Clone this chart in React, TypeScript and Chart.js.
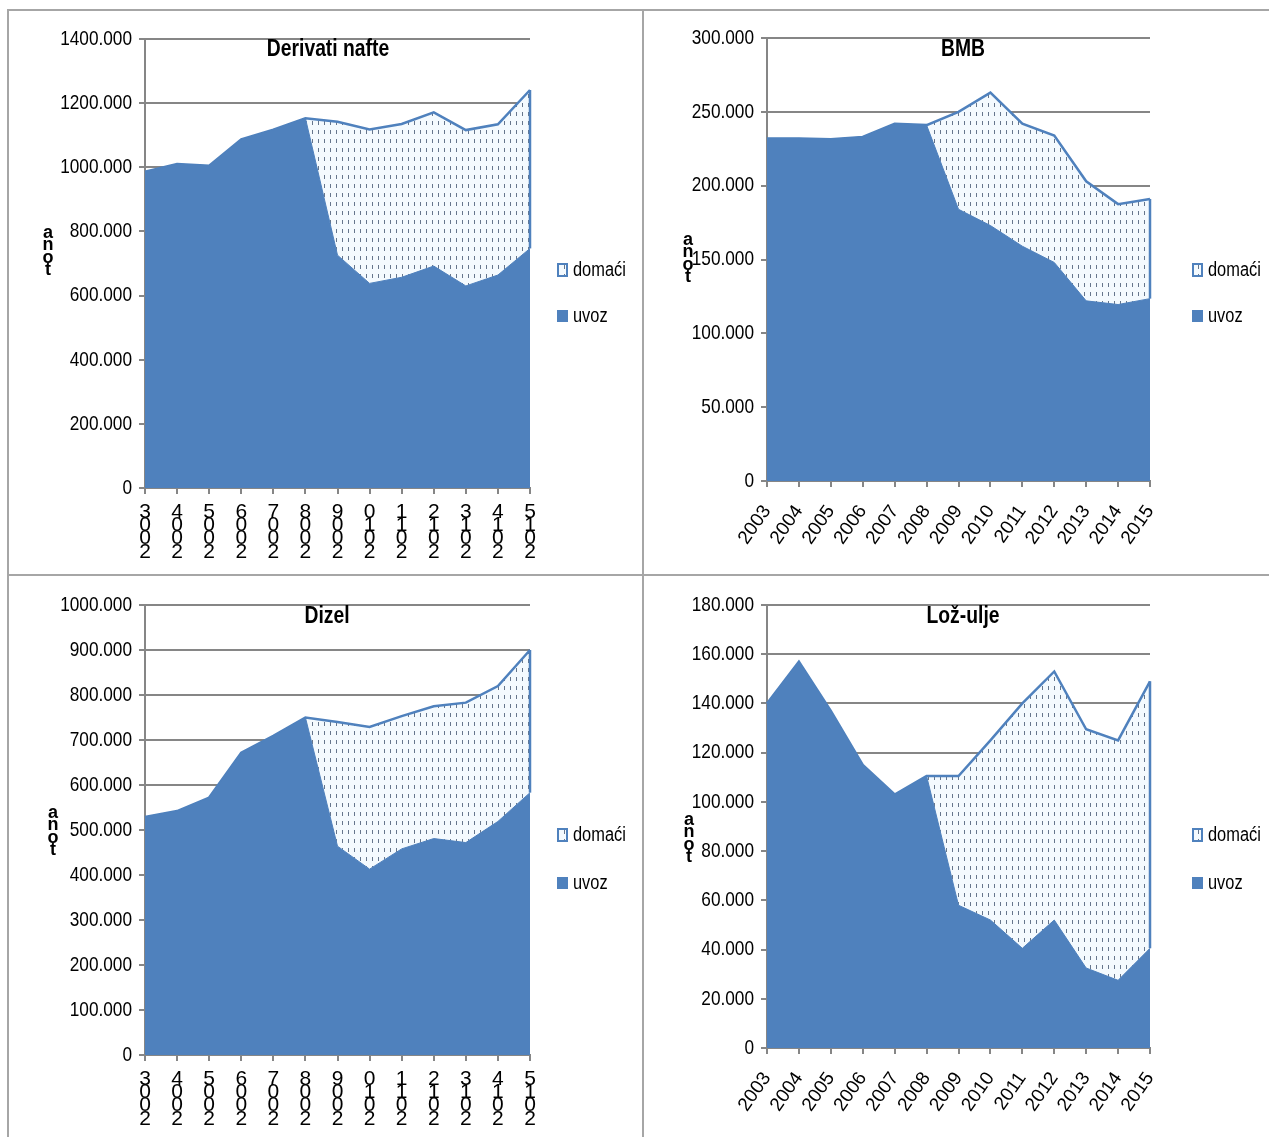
import React, { useEffect, useRef } from 'react';
import { Chart, registerables } from 'chart.js';

Chart.register(...registerables);

// ---------- data ----------
const years = ['2003', '2004', '2005', '2006', '2007', '2008', '2009', '2010', '2011', '2012', '2013', '2014', '2015'];
const stackedYearLabels = years.map((y) => y.split('').reverse());

const seriesUvoz = 'uvoz';
const seriesDomaci = 'domaći';
const axisTitle = 'tona';

const derivatiTitle = 'Derivati nafte';
const derivatiUvoz = [986000, 1010000, 1005000, 1087000, 1117000, 1153000, 726000, 638000, 657000, 692000, 630000, 664000, 747000];
const derivatiDomaci = [0, 0, 0, 0, 0, 0, 416000, 480000, 478000, 479000, 486000, 470000, 494000];

const bmbTitle = 'BMB';
const bmbUvoz = [232000, 232000, 231500, 233000, 242000, 241000, 184000, 173000, 159000, 148000, 122000, 119500, 123500];
const bmbDomaci = [0, 0, 0, 0, 0, 0, 66000, 90000, 83000, 86000, 81000, 68000, 67500];

const dizelTitle = 'Dizel';
const dizelUvoz = [529000, 542000, 572000, 672000, 709000, 750000, 464000, 413000, 458000, 481000, 472000, 519000, 583000];
const dizelDomaci = [0, 0, 0, 0, 0, 0, 276000, 316000, 295000, 294000, 311000, 301000, 317000];

const lozTitle = 'Lož-ulje';
const lozUvoz = [140000, 157000, 137000, 115000, 103000, 110500, 58000, 52000, 40500, 52000, 32500, 27500, 40500];
const lozDomaci = [0, 0, 0, 0, 0, 0, 52500, 73000, 99500, 101000, 97000, 97500, 108500];

// ---------- style ----------
const BLUE = '#4F81BD';
const GRID = '#868686';
const FRAME = '#A6A6A6';
const BASE = "'Liberation Sans', Arial, sans-serif";
const NARROW_X = 0.82;

function makePattern(): CanvasPattern | string {
  const c = document.createElement('canvas');
  c.width = 6;
  c.height = 9;
  const g = c.getContext('2d');
  if (!g) return '#F4FAFE';
  g.fillStyle = '#F4FAFE';
  g.fillRect(0, 0, 6, 9);
  g.fillStyle = '#66768C';
  g.fillRect(2, 2, 1, 4);
  return g.createPattern(c, 'repeat') || '#F4FAFE';
}

function fmt(v: number | string) {
  const n = Number(v);
  if (n === 0) return '0';
  const th = Math.floor(n / 1000);
  const r = Math.round(n % 1000);
  return `${th}.${String(r).padStart(3, '0')}`;
}

function drawNarrow(ctx: CanvasRenderingContext2D, text: string, x: number, y: number, align: CanvasTextAlign, font: string, sx = NARROW_X) {
  ctx.save();
  ctx.translate(x, y);
  ctx.scale(sx, 1);
  ctx.font = font;
  ctx.textAlign = align;
  ctx.textBaseline = 'middle';
  ctx.fillText(text, 0, 0);
  ctx.restore();
}

interface PanelProps {
  title: string;
  uvoz: number[];
  domaci: number[];
  max: number;
  step: number;
  stacked: boolean;
  left: number;
  top: number;
  width: number;
  height: number;
  plot: { l: number; t: number; r: number; b: number };
  titleX: number;
  titleY: number;
  axisX: number;
  axisY: number;
  legendX: number;
  legendY1: number;
  legendY2: number;
}

function Panel(p: PanelProps) {
  const ref = useRef<HTMLCanvasElement>(null);
  useEffect(() => {
    const canvas = ref.current;
    if (!canvas) return;
    const pattern = makePattern();
    const overlay = {
      id: 'overlay',
      afterDatasetsDraw(chart: any) {
        const ctx = chart.ctx;
        const xs = chart.scales.x;
        const ys = chart.scales.y;
        const last = p.uvoz.length - 1;
        const x = xs.getPixelForValue(last);
        ctx.save();
        ctx.strokeStyle = BLUE;
        ctx.lineWidth = 2.5;
        ctx.beginPath();
        ctx.moveTo(x, ys.getPixelForValue(p.uvoz[last] + p.domaci[last]));
        ctx.lineTo(x, ys.getPixelForValue(p.uvoz[last]));
        ctx.stroke();
        ctx.restore();
      },
      afterDraw(chart: any) {
        const ctx = chart.ctx as CanvasRenderingContext2D;
        const ys = chart.scales.y;
        ctx.save();
        ctx.fillStyle = '#000';
        // y tick labels (from the scale's own ticks)
        ys.ticks.forEach((t: any) => {
          drawNarrow(ctx, fmt(t.value), chart.chartArea.left - 13, ys.getPixelForValue(t.value), 'right', `21px ${BASE}`);
        });
        // title
        drawNarrow(ctx, p.title, p.titleX, p.titleY, 'center', `bold 23px ${BASE}`, 0.84);
        // axis title (stacked letters)
        ctx.font = `bold 18px ${BASE}`;
        ctx.textAlign = 'center';
        ctx.textBaseline = 'middle';
        const letters = axisTitle.split('').reverse();
        letters.forEach((ch, i) => ctx.fillText(ch, p.axisX, p.axisY + i * 12.5));
        // legend
        ctx.fillStyle = pattern as any;
        ctx.fillRect(p.legendX, p.legendY1 - 6, 9, 12);
        ctx.strokeStyle = BLUE;
        ctx.lineWidth = 2;
        ctx.strokeRect(p.legendX, p.legendY1 - 6, 9, 12);
        ctx.fillStyle = '#000';
        drawNarrow(ctx, seriesDomaci, p.legendX + 15, p.legendY1, 'left', `20px ${BASE}`);
        ctx.fillStyle = BLUE;
        ctx.fillRect(p.legendX - 1, p.legendY2 - 6, 11, 12);
        ctx.fillStyle = '#000';
        drawNarrow(ctx, seriesUvoz, p.legendX + 15, p.legendY2, 'left', `20px ${BASE}`);
        ctx.restore();
      },
    };

    const xTicks = p.stacked
      ? { maxRotation: 0, minRotation: 0, autoSkip: false, color: '#000', padding: 11, font: { family: BASE, size: 21, lineHeight: 0.64 } }
      : { maxRotation: 55, minRotation: 55, autoSkip: false, color: '#000', padding: 14, font: { family: BASE, size: 19 } };

    const chart = new Chart(canvas, {
      type: 'line',
      data: {
        labels: p.stacked ? stackedYearLabels : years,
        datasets: [
          { label: seriesUvoz, data: p.uvoz, backgroundColor: BLUE, borderColor: BLUE, borderWidth: 1, fill: 'origin', pointRadius: 0, tension: 0 },
          { label: seriesDomaci, data: p.domaci, backgroundColor: pattern as any, borderColor: BLUE, borderWidth: 2.5, fill: '-1', pointRadius: 0, tension: 0 },
        ],
      },
      options: {
        responsive: false,
        animation: false,
        devicePixelRatio: 1,
        layout: { padding: { top: p.plot.t, left: 0, right: p.width - p.plot.r, bottom: 0 } },
        plugins: {
          legend: { display: false },
          title: { display: false },
          tooltip: { enabled: false },
        },
        scales: {
          x: {
            grid: { drawOnChartArea: false, drawTicks: true, tickLength: 6, color: GRID, lineWidth: 2 },
            border: { color: GRID, width: 2 },
            ticks: xTicks as any,
            afterFit: (s: any) => {
              s.height = p.height - p.plot.b;
            },
          },
          y: {
            stacked: true,
            min: 0,
            max: p.max,
            ticks: { stepSize: p.step, display: false },
            grid: { color: GRID, lineWidth: 2, tickLength: 6, drawTicks: true },
            border: { color: GRID, width: 2 },
            afterFit: (s: any) => {
              s.width = p.plot.l;
            },
          },
        },
      },
      plugins: [overlay],
    });
    return () => chart.destroy();
  }, []);
  return (
    <canvas
      ref={ref}
      width={p.width}
      height={p.height}
      style={{ position: 'absolute', left: p.left, top: p.top, width: p.width, height: p.height }}
    />
  );
}

const line = (left: number, top: number, width: number, height: number) => (
  <div style={{ position: 'absolute', left, top, width, height, background: FRAME }} />
);

export default function App() {
  return (
    <div style={{ position: 'fixed', left: 0, top: 0, width: 1269, height: 1137, overflow: 'hidden', background: '#fff' }}>
      <Panel title={derivatiTitle} uvoz={derivatiUvoz} domaci={derivatiDomaci} max={1400000} step={200000} stacked
        left={10} top={11} width={632} height={563} plot={{ l: 135, t: 28, r: 520, b: 477 }}
        titleX={318} titleY={39} axisX={38} axisY={222} legendX={548} legendY1={259} legendY2={305} />
      <Panel title={bmbTitle} uvoz={bmbUvoz} domaci={bmbDomaci} max={300000} step={50000} stacked={false}
        left={644} top={11} width={625} height={563} plot={{ l: 123, t: 27, r: 506, b: 470 }}
        titleX={319} titleY={39} axisX={44} axisY={229} legendX={549} legendY1={259} legendY2={305} />
      <Panel title={dizelTitle} uvoz={dizelUvoz} domaci={dizelDomaci} max={1000000} step={100000} stacked
        left={10} top={576} width={632} height={561} plot={{ l: 135, t: 29, r: 520, b: 479 }}
        titleX={317} titleY={41} axisX={43} axisY={237} legendX={548} legendY1={259} legendY2={307} />
      <Panel title={lozTitle} uvoz={lozUvoz} domaci={lozDomaci} max={180000} step={20000} stacked={false}
        left={644} top={576} width={625} height={561} plot={{ l: 123, t: 29, r: 506, b: 472 }}
        titleX={319} titleY={41} axisX={45} axisY={244} legendX={549} legendY1={259} legendY2={307} />
      {line(7, 9, 1262, 2)}
      {line(7, 9, 2, 1128)}
      {line(642, 9, 2, 1128)}
      {line(7, 574, 1262, 2)}
    </div>
  );
}
